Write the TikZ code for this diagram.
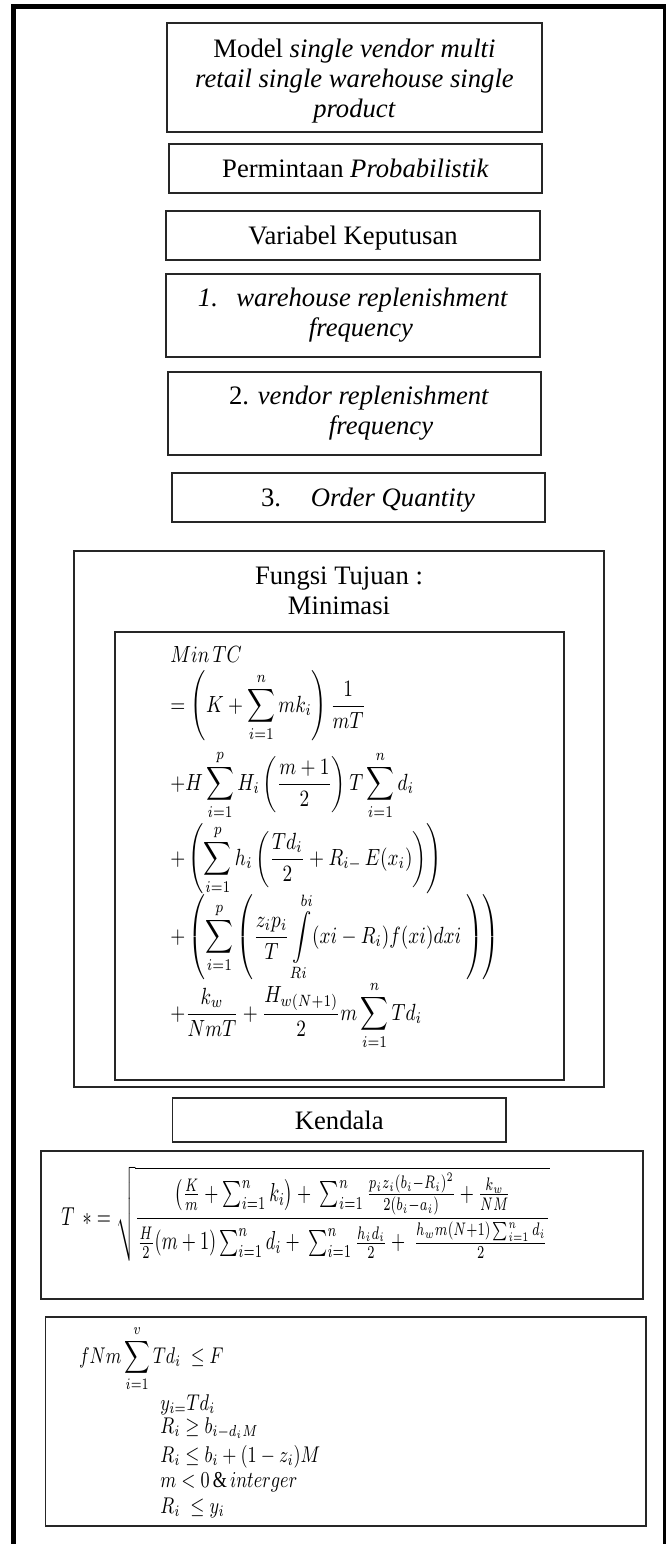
\documentclass[tikz,border=0pt]{standalone}
\usepackage{amsmath}
\usepackage{amssymb}
\usepackage{graphicx}
\usepackage{fontspec}
\setmainfont{Liberation Serif}
\usepackage{tikz}

\begin{document}
\begin{tikzpicture}[x=0.4615pt, y=-0.4615pt,
    every node/.style={font=\fontsize{12.3}{13.8}\selectfont},
    box/.style={draw=black!85, line width=0.6pt, align=center, inner sep=0pt},
    eq/.style={anchor=base west, inner sep=0pt, font=\fontsize{10}{12}\selectfont},
    frame/.style={line width=2.2pt}
  ]
  \useasboundingbox (0,0) rectangle (666,1544);
  \draw[frame] (13.8,1544) |- (665.3,6.3) -- (665.3,1544);
  \node[box, minimum width=173.1pt, minimum height=50.3pt] (model) at (354.5,77.5)
    {\rule{0pt}{12pt}Model \textit{single vendor multi}\\\textit{retail single warehouse single}\\\textit{product}};
  \node[box, minimum width=172.1pt, minimum height=22.6pt] (demand) at (355.5,168.5)
    {Permintaan \textit{Probabilistik}};
  \node[box, minimum width=172.6pt, minimum height=22.6pt] (var) at (353,235.5)
    {\rule{0pt}{11pt}Variabel Keputusan};
  \node[box, minimum width=172.6pt, minimum height=38.3pt] (var1) at (353,315.5)
    {\textit{1.}\hspace{8.5pt}\textit{warehouse replenishment}\\\hspace*{7.4pt}\textit{frequency}};
  \node[box, minimum width=172.1pt, minimum height=38.3pt] (var2) at (354.5,413.5)
    {\hspace*{4.2pt}2. \textit{vendor replenishment}\\\hspace*{24.5pt}\textit{frequency}};
  \node[box, minimum width=172.1pt, minimum height=22.6pt] (var3) at (358.5,497.5)
    {\rule{0pt}{11pt}\hspace*{8.8pt}3.\hspace{13.8pt}\textit{Order Quantity}};
  \node[box, minimum width=244.6pt, minimum height=247.4pt] (goal) at (339,819) {};
  \node[align=center, inner sep=0pt] (goaltitle) at (339,591) {Fungsi Tujuan :\\Minimasi};
  \node[box, minimum width=207.2pt, minimum height=206.8pt] (tc) at (339.5,856) {};
  \node[eq] (tc1) at (170,662) {\scalebox{0.89}[1.08]{$Min\,TC$}};
  \node[eq] (tc2) at (170,712)
    {\scalebox{0.89}[1.08]{$\displaystyle =\left(K+\sum_{i=1}^{n} mk_i\right)\frac{1}{mT}$}};
  \node[eq] (tc3) at (170,790)
    {\scalebox{0.89}[1.08]{$\displaystyle +H\sum_{i=1}^{p} H_i\left(\frac{m+1}{2}\right)T\sum_{i=1}^{n} d_i$}};
  \node[eq] (tc4) at (170,865)
    {\scalebox{0.89}[1.08]{$\displaystyle +\left(\sum_{i=1}^{p} h_i\left(\frac{Td_i}{2}+R_{i-}\,E(x_i)\right)\right)$}};
  \node[eq] (tc5) at (170,943)
    {\scalebox{0.89}[1.08]{$\displaystyle +\left(\sum_{i=1}^{p}\left(\frac{z_ip_i}{T}\int\limits_{Ri}^{bi}(xi-R_i)f(xi)dxi\ \right)\right)$}};
  \node[eq] (tc6) at (170,1020)
    {\scalebox{0.89}[1.08]{$\displaystyle +\frac{k_w}{NmT}+\frac{H_{w(N+1)}}{2}m\sum_{i=1}^{n} Td_i$}};
  \node[box, minimum width=153.9pt, minimum height=20.3pt] (limit) at (339.25,1120) {Kendala};
  \node[box, minimum width=277.8pt, minimum height=68.3pt] (tstar) at (342,1225) {};
  \node[anchor=west, inner sep=0pt, font=\fontsize{10}{12}\selectfont] (tform) at (61,1214)
    {\scalebox{0.84}[1.2]{$T\;\,{\ast}{}=\sqrt{\dfrac{\left(\frac{K}{m}+\sum_{i=1}^{n}k_i\right)+\ \sum_{i=1}^{n}\frac{p_iz_i(b_i-R_i)^2}{2(b_i-a_i)}+\frac{k_w}{NM}}{\frac{H}{2}(m+1)\sum_{i=1}^{n}d_i+\ \sum_{i=1}^{n}\frac{h_id_i}{2}+\ \frac{h_wm(N+1)\sum_{i=1}^{n}d_i}{2}}}$}};
  \node[box, minimum width=277.1pt, minimum height=96.5pt] (cons) at (345.75,1421.5) {};
  \node[eq] (c1) at (78.6,1363) {\scalebox{0.82}[1.05]{$\displaystyle fNm\sum_{i=1}^{v}Td_i\;\le F$}};
  \node[eq] (c2) at (160,1410) {\scalebox{0.84}[1.05]{$y_{i=}Td_i$}};
  \node[eq] (c3) at (160,1433) {\scalebox{0.84}[1.05]{$R_i\ge b_{i-d_iM}$}};
  \node[eq] (c4) at (160,1462) {\scalebox{0.84}[1.05]{$R_i\le b_i+(1-z_i)M$}};
  \node[eq] (c5) at (160,1487) {\scalebox{0.84}[1.05]{$m<0\,\&\,interger$}};
  \node[eq] (c6) at (160,1513) {\scalebox{0.84}[1.05]{$R_i\;\le y_i$}};
\end{tikzpicture}
\end{document}
